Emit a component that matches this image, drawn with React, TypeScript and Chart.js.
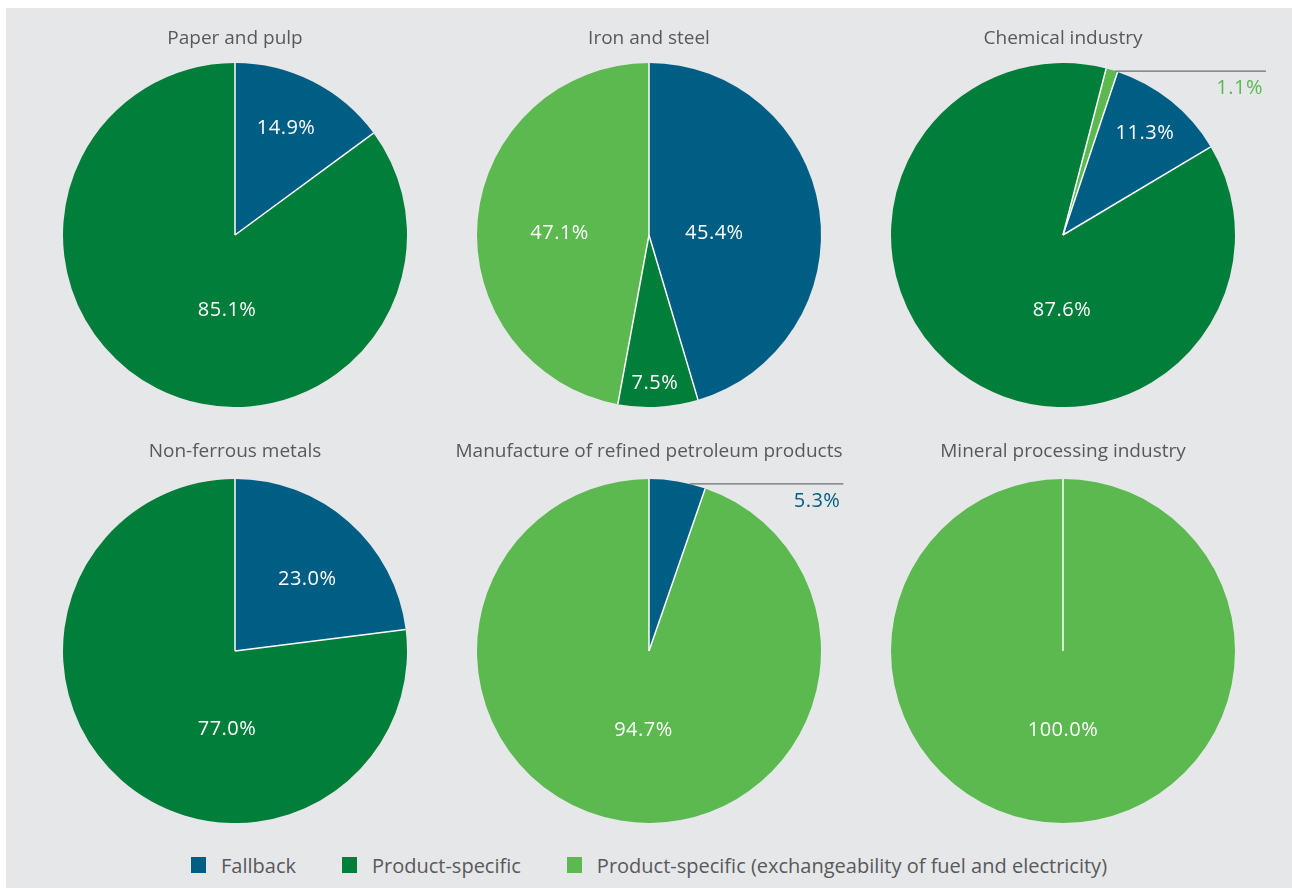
import React, { useEffect, useRef } from "react";
import { Chart, registerables } from "chart.js";

Chart.register(...registerables);

// ---------- data ----------
const seriesNames = [
  "Fallback",
  "Product-specific",
  "Product-specific (exchangeability of fuel and electricity)",
];
const sectors = [
  "Paper and pulp",
  "Iron and steel",
  "Chemical industry",
  "Non-ferrous metals",
  "Manufacture of refined petroleum products",
  "Mineral processing industry",
];
const fallback = [14.9, 45.4, 11.3, 23.0, 5.3, 0];
const productSpecific = [85.1, 7.5, 87.6, 77.0, 0, 0];
const exchangeability = [0, 47.1, 1.1, 0, 94.7, 100.0];

// ---------- style / layout ----------
const colors = ["#005e85", "#007e3a", "#5bb94f"];
const FONT = "'Open Sans', 'Noto Sans', sans-serif";
const TEXT_GRAY = "#58595b";
const BG = "#e6e7e9";
const rotations = [0, 0, 18.5, 0, 0, 0];
const cellLeft = [28, 442, 856];
const cellTop = [27, 440];
const titleGap = [13.2, 16.2];
const CANVAS_W = 414;
const PIE_AREA = 344;
const TITLE_SIZE = 19;
const TITLE_LINE = TITLE_SIZE * 1.2;

// label anchors: [degrees clockwise from 12 o'clock, fraction of radius]
const labelAnchors: ([number, number] | null)[][] = [
  [[25.5, 0.69], [186, 0.44], null],
  [[88.2, 0.38], [177.7, 0.86], [271.3, 0.52]],
  [[38.8, 0.76], [180.8, 0.44], null],
  [[45.4, 0.59], [185.8, 0.46], null],
  [null, null, [184, 0.46]],
  [null, null, [180, 0.46]],
];
// callouts: chart, series, anchor angle on rim (deg), line end (fraction of radius right of centre)
const callouts = [
  { chart: 2, series: 2, angle: 17.6, end: 1.18 },
  { chart: 4, series: 0, angle: 13.8, end: 1.13 },
];

const fmt = (v: number) => v.toFixed(1) + "%";

const piePlugin = {
  id: "pieDecor",
  afterDatasetsDraw(chart: any) {
    const idx: number = chart.options.plugins.pieDecor.index;
    const ctx = chart.ctx;
    const meta = chart.getDatasetMeta(0);
    const values: number[] = chart.data.datasets[0].data;
    ctx.save();
    // white separators
    meta.data.forEach((arc: any, i: number) => {
      if (!values[i]) return;
      const p = arc.getProps(["x", "y", "startAngle", "outerRadius"], true);
      ctx.beginPath();
      ctx.moveTo(p.x, p.y);
      ctx.lineTo(p.x + p.outerRadius * Math.cos(p.startAngle), p.y + p.outerRadius * Math.sin(p.startAngle));
      ctx.strokeStyle = "#ffffff";
      ctx.lineWidth = 1.5;
      ctx.stroke();
    });
    // inside labels
    ctx.font = `20px ${FONT}`;
    try {
      (ctx as any).letterSpacing = "0.5px";
    } catch (e) {}
    ctx.textAlign = "center";
    ctx.textBaseline = "middle";
    ctx.fillStyle = "#ffffff";
    meta.data.forEach((arc: any, i: number) => {
      const a = labelAnchors[idx][i];
      if (!values[i] || !a) return;
      const p = arc.getProps(["x", "y", "outerRadius"], true);
      const t = (a[0] * Math.PI) / 180;
      ctx.fillText(fmt(values[i]), p.x + a[1] * p.outerRadius * Math.sin(t), p.y - a[1] * p.outerRadius * Math.cos(t));
    });
    // callouts
    callouts
      .filter((c) => c.chart === idx)
      .forEach((c) => {
        const arc = meta.data[c.series];
        const p = arc.getProps(["x", "y", "outerRadius"], true);
        const t = (c.angle * Math.PI) / 180;
        const sx = p.x + p.outerRadius * Math.sin(t);
        const sy = p.y - p.outerRadius * Math.cos(t);
        const ex = p.x + c.end * p.outerRadius;
        ctx.beginPath();
        ctx.moveTo(sx, sy);
        ctx.lineTo(ex, sy);
        ctx.strokeStyle = "#6d6e71";
        ctx.lineWidth = 1.3;
        ctx.stroke();
        ctx.fillStyle = colors[c.series];
        ctx.textAlign = "right";
        ctx.textBaseline = "middle";
        ctx.fillText(fmt(values[c.series]), ex - 3, sy + 17);
      });
    ctx.restore();
  },
};

function PieCell({ index }: { index: number }) {
  const ref = useRef<HTMLCanvasElement | null>(null);
  const col = index % 3;
  const row = Math.floor(index / 3);
  const h = Math.round(TITLE_LINE + titleGap[row] + PIE_AREA);
  useEffect(() => {
    if (!ref.current) return;
    const chart = new Chart(ref.current, {
      type: "pie",
      data: {
        labels: seriesNames,
        datasets: [
          {
            data: [fallback[index], productSpecific[index], exchangeability[index]],
            backgroundColor: colors,
            borderWidth: 0,
          },
        ],
      },
      options: {
        responsive: false,
        animation: false,
        rotation: rotations[index],
        layout: { padding: 0 },
        plugins: {
          legend: { display: false },
          tooltip: { enabled: false },
          title: {
            display: true,
            text: sectors[index],
            color: TEXT_GRAY,
            font: { family: FONT, size: TITLE_SIZE, weight: "normal", lineHeight: 1.2 },
            padding: { top: 0, bottom: titleGap[row] },
          },
          pieDecor: { index },
        } as any,
      },
      plugins: [piePlugin],
    });
    return () => chart.destroy();
  }, [index]);
  return (
    <canvas
      ref={ref}
      width={CANVAS_W}
      height={h}
      style={{ position: "absolute", left: cellLeft[col], top: cellTop[row], width: CANVAS_W, height: h }}
    />
  );
}

export default function App() {
  return (
    <div style={{ position: "absolute", left: 0, top: 0, width: 1292, height: 888, overflow: "hidden", background: "#ffffff" }}>
      <div style={{ position: "absolute", left: 6, top: 8, width: 1286, height: 880, background: BG }} />
      {sectors.map((_, i) => (
        <PieCell key={i} index={i} />
      ))}
      <div
        style={{
          position: "absolute",
          left: 191,
          top: 852,
          height: 26,
          display: "flex",
          alignItems: "center",
          fontFamily: FONT,
          fontSize: 20,
          color: TEXT_GRAY,
          whiteSpace: "nowrap",
        }}
      >
        {seriesNames.map((n, i) => (
          <div key={n} style={{ display: "flex", alignItems: "center", marginRight: 46 }}>
            <span style={{ display: "inline-block", width: 15, height: 16, background: colors[i], marginRight: 15 }} />
            <span>{n}</span>
          </div>
        ))}
      </div>
    </div>
  );
}
